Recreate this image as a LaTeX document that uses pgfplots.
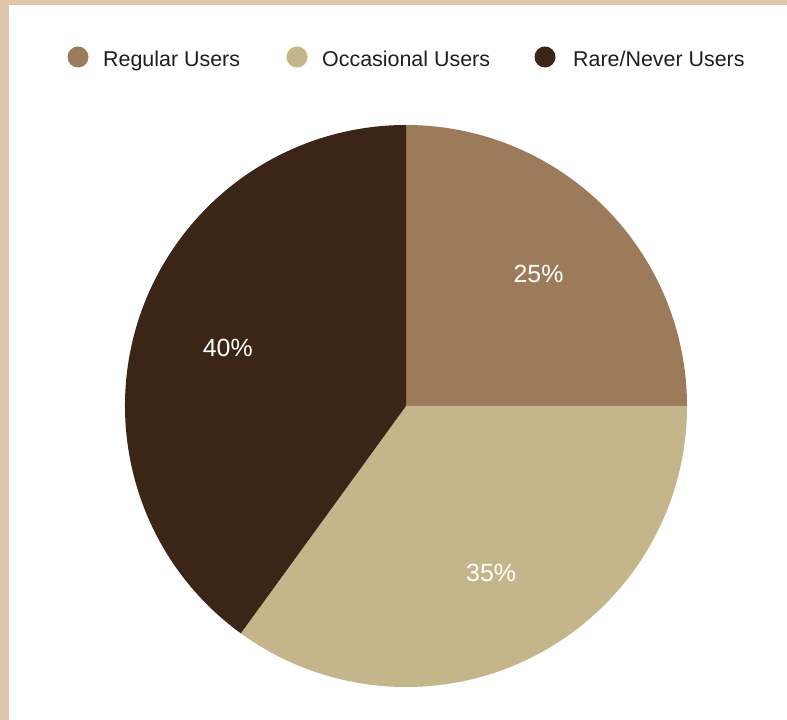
\documentclass[border=0pt]{standalone}
\usepackage{pgfplots}
\pgfplotsset{compat=1.18}
\usepackage{fontspec}
\setmainfont{Liberation Sans}
\definecolor{bgbeige}{HTML}{DFC5AA}
\definecolor{cReg}{HTML}{9C7B5A}
\definecolor{cOcc}{HTML}{C5B58A}
\definecolor{cRare}{HTML}{3A2517}
\definecolor{txt}{HTML}{1E1E1E}
\begin{document}
\begin{tikzpicture}[x=1bp,y=1bp]
\fill[bgbeige] (0,0) rectangle (787,720);
\fill[white] (9,0) rectangle (787,715);
% legend
\fill[cReg] (78,663) circle[radius=10.5bp];
\node[anchor=base west, inner sep=0pt, text=txt, font=\fontsize{21.5}{24}\selectfont] at (103,653.3) {Regular Users};
\fill[cOcc] (297,663) circle[radius=10.5bp];
\node[anchor=base west, inner sep=0pt, text=txt, font=\fontsize{21.5}{24}\selectfont] at (322,653.3) {Occasional Users};
\fill[cRare] (545,663) circle[radius=10.5bp];
\node[anchor=base west, inner sep=0pt, text=txt, font=\fontsize{21.5}{24}\selectfont] at (573,653.3) {Rare/Never Users};
\begin{axis}[
  at={(125bp,33bp)}, anchor=south west,
  scale only axis, width=562bp, height=562bp,
  xmin=-1, xmax=1, ymin=-1, ymax=1,
  hide axis, clip=false,
]
% values: Regular 25, Occasional 35, Rare/Never 40 (percent), clockwise from 12 o'clock
\fill[cReg] (axis cs:0,0) -- (axis cs:0,1) arc[start angle=90, end angle={90-3.6*25}, radius=281bp] -- cycle;
\fill[cOcc] (axis cs:0,0) -- (axis cs:{cos(90-3.6*25)},{sin(90-3.6*25)}) arc[start angle={90-3.6*25}, end angle={90-3.6*(25+35)}, radius=281bp] -- cycle;
\fill[cRare] (axis cs:0,0) -- (axis cs:{cos(90-3.6*60)},{sin(90-3.6*60)}) arc[start angle={90-3.6*60}, end angle={90-3.6*100}, radius=281bp] -- cycle;
\node[text=white, font=\fontsize{25}{28}\selectfont] at (axis cs:{0.667*cos(90-3.6*12.5)},{0.667*sin(90-3.6*12.5)}) {25\%};
\node[text=white, font=\fontsize{25}{28}\selectfont] at (axis cs:{0.667*cos(90-3.6*42.5)},{0.667*sin(90-3.6*42.5)}) {35\%};
\node[text=white, font=\fontsize{25}{28}\selectfont] at (axis cs:{0.667*cos(90-3.6*80)},{0.667*sin(90-3.6*80)}) {40\%};
\end{axis}
\end{tikzpicture}
\end{document}
